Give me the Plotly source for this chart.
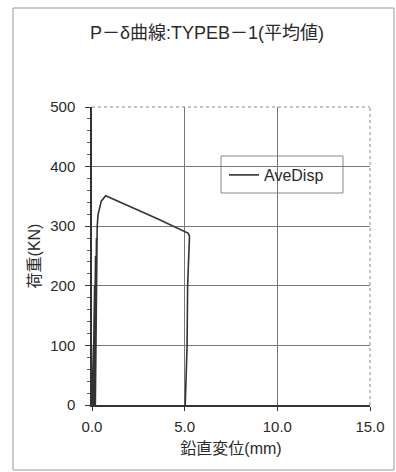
import plotly.graph_objects as go

# Data
disp_mm = [0.00, 0.04, 0.08, 0.06, 0.05,
           0.07, 0.10, 0.14, 0.12, 0.10,
           0.11, 0.13, 0.17, 0.15, 0.12,
           0.12, 0.15, 0.19, 0.17, 0.14,
           0.15, 0.18, 0.22, 0.20, 0.16,
           0.16, 0.19, 0.24, 0.21, 0.18,
           0.20, 0.23, 0.26, 0.28, 0.33, 0.39, 0.50, 0.74,
           2.00, 3.50, 5.20,
           5.26, 5.25, 5.20, 5.16, 5.13, 5.09, 5.03]
load_kn = [0, 50, 100, 50, 0,
           50, 100, 200, 100, 0,
           50, 120, 230, 120, 0,
           50, 150, 250, 150, 0,
           50, 150, 270, 150, 0,
           50, 150, 280, 150, 0,
           50, 150, 250, 300, 320, 330, 342, 351,
           334, 313, 288,
           283, 275, 240, 200, 100, 40, 0]

x_ticks = [0, 5, 10, 15]
x_tick_labels = ["0.0", "5.0", "10.0", "15.0"]
y_ticks = [0, 100, 200, 300, 400, 500]

FONT = "Liberation Sans, Noto Sans CJK JP, Arial, sans-serif"
TXT = "#2a2a2a"

fig = go.Figure()
fig.add_trace(go.Scatter(
    x=disp_mm, y=load_kn, mode="lines", name="AveDisp",
    line=dict(color="#333333", width=1.6),
))

fig.update_layout(
    width=396, height=472,
    margin=dict(l=92, r=26, t=107, b=67),
    paper_bgcolor="white", plot_bgcolor="white",
    font=dict(family=FONT, size=15, color=TXT),
    title=dict(text="P－δ曲線:TYPEB－1(平均値)", x=207 / 396, xanchor="center",
               y=1 - 33 / 472, yanchor="middle",
               font=dict(family=FONT, size=18, color=TXT)),
    showlegend=True,
    legend=dict(x=(224 - 92) / 278, y=(405 - 175) / 298, xanchor="left", yanchor="middle",
                borderwidth=0, bgcolor="rgba(0,0,0,0)",
                font=dict(family=FONT, size=16, color=TXT)),
    xaxis=dict(range=[0, 15], tickvals=x_ticks, ticktext=x_tick_labels,
               showgrid=True, gridcolor="#777777", gridwidth=1,
               showline=True, linecolor="#333333", linewidth=1.5,
               ticks="outside", ticklen=4, tickcolor="#333333",
               zeroline=False, ticklabelstandoff=3,
               tickfont=dict(family=FONT, size=15, color=TXT),
               title=dict(text="鉛直変位(mm)", standoff=9,
                          font=dict(family=FONT, size=16, color=TXT))),
    yaxis=dict(range=[0, 500], tickvals=y_ticks,
               showgrid=True, gridcolor="#777777", gridwidth=1,
               showline=True, linecolor="#333333", linewidth=1.5,
               ticks="outside", ticklen=5, tickcolor="#333333",
               zeroline=False, ticklabelstandoff=7,
               tickfont=dict(family=FONT, size=15, color=TXT),
               minor=dict(dtick=20, ticks="outside", ticklen=3, tickcolor="#555555", showgrid=False),
               title=dict(text="荷重(KN)", standoff=6,
                          font=dict(family=FONT, size=16, color=TXT))),
)

# dotted top and right borders of plot area
fig.add_shape(type="line", xref="paper", yref="paper", x0=0, x1=1, y0=1, y1=1,
              line=dict(color="#888888", width=1, dash="dot"))
fig.add_shape(type="line", xref="paper", yref="paper", x0=1, x1=1, y0=0, y1=1,
              line=dict(color="#888888", width=1, dash="dot"))
# legend box
fig.add_shape(type="rect", xref="paper", yref="paper",
              x0=(221 - 92) / 278, x1=(343 - 92) / 278,
              y0=(405 - 193) / 298, y1=(405 - 156) / 298,
              line=dict(color="#888888", width=1), fillcolor="white", layer="below")
# outer chart frame
fig.add_shape(type="rect", xref="paper", yref="paper",
              x0=(13 - 92) / 278, x1=(394 - 92) / 278,
              y0=(405 - 470) / 298, y1=(405 - 8) / 298,
              line=dict(color="#999999", width=1))

fig.write_html("out.html", config={"displayModeBar": False})

# remove default page margin so the figure sits at the window origin
with open("out.html", "r", encoding="utf-8") as f:
    html = f.read()
html = html.replace("<body>", '<body style="margin:0;padding:0">', 1)
with open("out.html", "w", encoding="utf-8") as f:
    f.write(html)
